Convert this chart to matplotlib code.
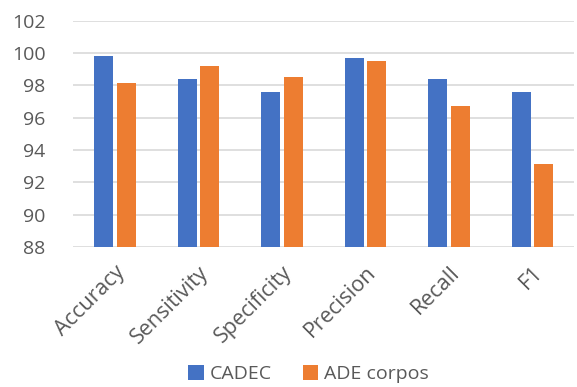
import matplotlib.pyplot as plt
import numpy as np

metrics = ["Accuracy", "Sensitivity", "Specificity", "Precision", "Recall", "F1"]
cadec = [99.8, 98.4, 97.6, 99.7, 98.4, 97.6]
ade_corpos = [98.15, 99.2, 98.5, 99.5, 96.7, 93.15]
series_names = ["CADEC", "ADE corpos"]
yticks = [88, 90, 92, 94, 96, 98, 100, 102]

plt.rcParams["font.family"] = ["Open Sans", "DejaVu Sans"]
text_color = "#595959"

fig = plt.figure(figsize=(5.77, 3.87), dpi=100)
ax = fig.add_axes([0.127, 0.362, 0.868, 0.584])

x = np.arange(len(metrics))
w = 0.225
ax.bar(x - 0.135, cadec, w, color="#4472C4", label=series_names[0], zorder=3)
ax.bar(x + 0.135, ade_corpos, w, color="#ED7D31", label=series_names[1], zorder=3)

ax.set_xlim(-0.5, len(metrics) - 0.5)
ax.set_ylim(88, 102)
ax.set_yticks(yticks)
ax.yaxis.grid(True, color="#D9D9D9", linewidth=1.2, zorder=0)
for s in ax.spines.values():
    s.set_visible(False)
ax.tick_params(length=0, colors=text_color, labelsize=14)
ax.tick_params(axis="y", pad=20)
ax.tick_params(axis="x", pad=11, labelsize=15.5)
ax.set_xticks(x)
ax.set_xticklabels(metrics, rotation=45, ha="right", rotation_mode="anchor")
for lab in ax.get_yticklabels():
    lab.set_horizontalalignment("right")

fig.legend(loc="lower center", bbox_to_anchor=(0.535, -0.035), ncol=2, frameon=False,
           fontsize=14, labelcolor=text_color, handlelength=0.8, handleheight=0.8,
           handletextpad=0.3, columnspacing=1.6)

fig.savefig("out.png", dpi=100)
